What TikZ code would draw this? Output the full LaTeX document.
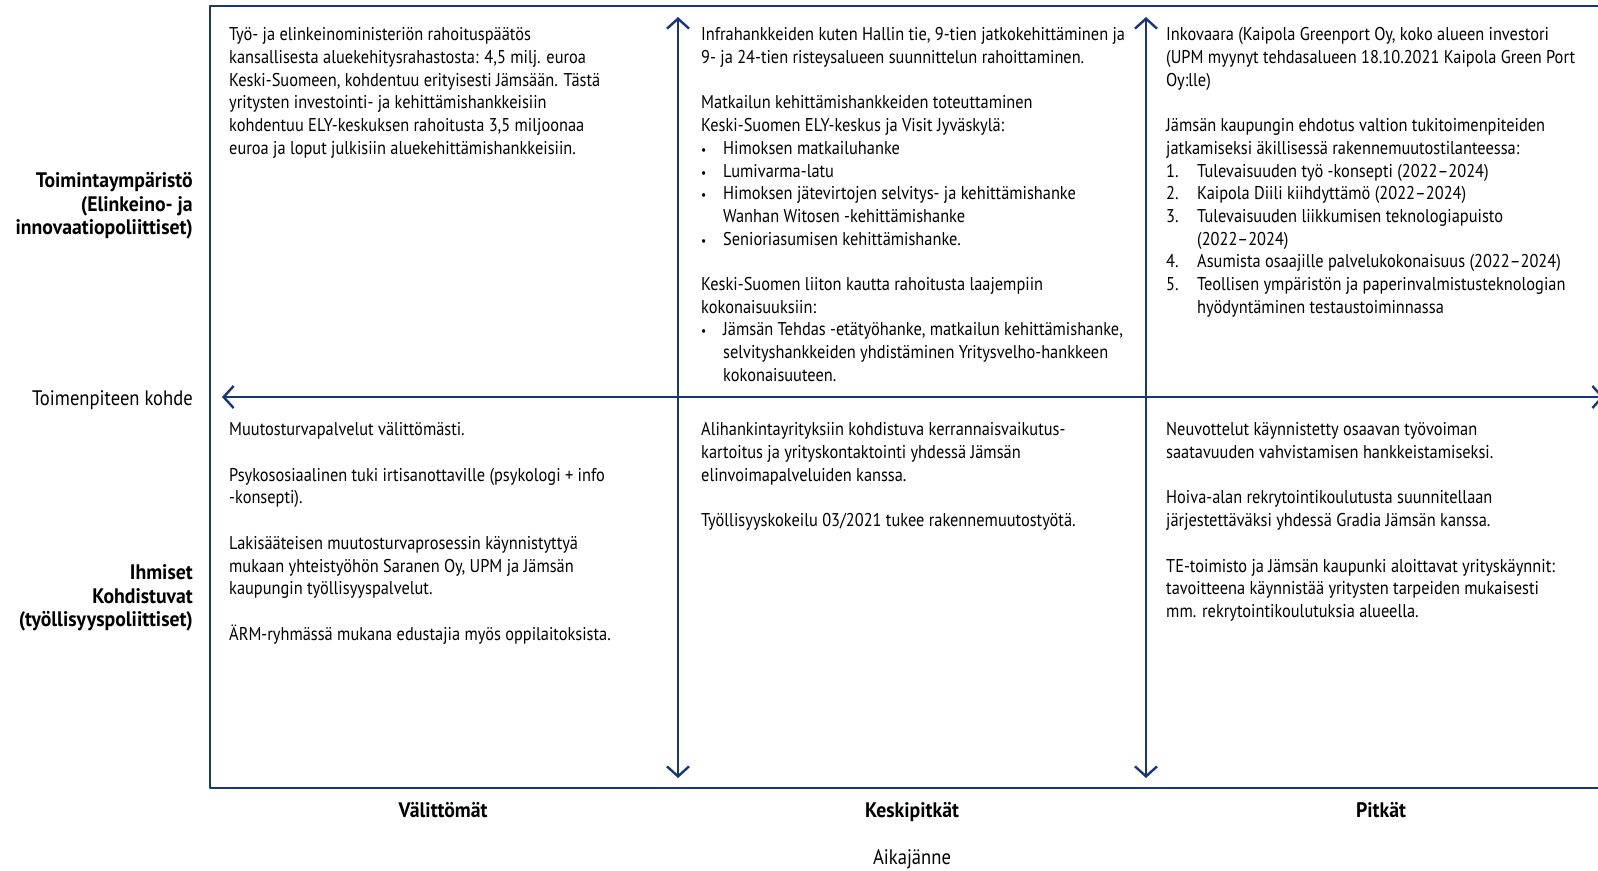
\documentclass[tikz,border=0pt]{standalone}
\usepackage{fontspec}
\setmainfont{PT Sans}[FakeStretch=0.885]
\newfontfamily\boldlab{PT Sans}[FakeStretch=0.94]
\usetikzlibrary{arrows.meta}
\definecolor{axisblue}{RGB}{24,55,120}
\newcommand{\bitem}[1]{\makebox[22pt][l]{\fontsize{13}{13}\selectfont\textbullet}#1}
\newcommand{\bcont}[1]{\hspace*{22pt}#1}
\newcommand{\nitem}[2]{\makebox[31pt][l]{#1}#2}
\newcommand{\ncont}[1]{\hspace*{31pt}#1}
\begin{document}
\begin{tikzpicture}[x=1pt,y=-1pt, line cap=round, line join=round,
  every node/.style={font=\fontsize{18.5}{22.7}\selectfont, inner sep=0pt},
  cell/.style={anchor=north west, align=left},
  rowlabel/.style={align=right, font=\fontsize{21}{23.5}\selectfont\boldlab\bfseries},
  collabel/.style={anchor=base, font=\fontsize{21}{23.5}\selectfont\boldlab\bfseries},
  axislabel/.style={font=\fontsize{21}{23.5}\selectfont},
  axis/.style={axisblue, line width=2.4pt, {Straight Barb[length=10pt,width=22pt]}-{Straight Barb[length=10pt,width=22pt]}}]
  % page
  \fill[white] (0,0) rectangle (1598,870);
  \clip (0,0) rectangle (1598,870);
  % frame
  \draw[axisblue, line width=2.2pt] (1614,6) -- (210,6) -- (210,788) -- (1614,788);
  % axes
  \coordinate (axL) at (222,397);
  \coordinate (axR) at (1604,397);
  \coordinate (midT) at (678,17);
  \coordinate (midB) at (678,778);
  \coordinate (lngT) at (1146,17);
  \coordinate (lngB) at (1146,778);
  \draw[axis] (axL) -- (axR);
  \draw[axis] (midT) -- (midB);
  \draw[axis] (lngT) -- (lngB);
  % row labels
  \node[rowlabel, anchor=east] (rowenv) at (193,206) {Toimintaympäristö\\(Elinkeino- ja\\innovaatiopoliittiset)};
  \node[axislabel, anchor=east] (rowaxis) at (193,400) {Toimenpiteen kohde};
  \node[rowlabel, anchor=east] (rowppl) at (193,598) {Ihmiset\\Kohdistuvat\\(työllisyyspoliittiset)};
  % column labels
  \node[collabel] (colnow) at (443,817.5) {Välittömät};
  \node[collabel] (colmid) at (912,817.5) {Keskipitkät};
  \node[collabel] (collong) at (1381,817.5) {Pitkät};
  \node[axislabel, anchor=base] (timeaxis) at (912,864.5) {Aikajänne};
  % upper cells
  \node[cell] (envnow) at (229,27.5) {Työ- ja elinkeinoministeriön rahoituspäätös\\
    kansallisesta aluekehitysrahastosta: 4,5 milj. euroa\\
    Keski-Suomeen, kohdentuu erityisesti Jämsään. Tästä\\
    yritysten investointi- ja kehittämishankkeisiin\\
    kohdentuu ELY-keskuksen rahoitusta 3,5 miljoonaa\\
    euroa ja loput julkisiin aluekehittämishankkeisiin.};
  \node[cell] (envmid) at (701,27.5) {Infrahankkeiden kuten Hallin tie, 9-tien jatkokehittäminen ja\\
    9- ja 24-tien risteysalueen suunnittelun rahoittaminen.\\[22.7pt]
    Matkailun kehittämishankkeiden toteuttaminen\\
    Keski-Suomen ELY-keskus ja Visit Jyväskylä:\\
    \bitem{Himoksen matkailuhanke}\\
    \bitem{Lumivarma-latu}\\
    \bitem{Himoksen jätevirtojen selvitys- ja kehittämishanke}\\
    \bcont{Wanhan Witosen -kehittämishanke}\\
    \bitem{Senioriasumisen kehittämishanke.}\\[22.7pt]
    Keski-Suomen liiton kautta rahoitusta laajempiin\\
    kokonaisuuksiin:\\
    \bitem{Jämsän Tehdas -etätyöhanke, matkailun kehittämishanke,}\\
    \bcont{selvityshankkeiden yhdistäminen Yritysvelho-hankkeen}\\
    \bcont{kokonaisuuteen.}};
  \node[cell] (envlong) at (1166,27.5) {Inkovaara (Kaipola Greenport Oy, koko alueen investori\\
    (UPM myynyt tehdasalueen 18.10.2021 Kaipola Green Port\\
    Oy:lle)\\[22.7pt]
    Jämsän kaupungin ehdotus valtion tukitoimenpiteiden\\
    jatkamiseksi äkillisessä rakennemuutostilanteessa:\\
    \nitem{1.}{Tulevaisuuden työ -konsepti (2022–2024)}\\
    \nitem{2.}{Kaipola Diili kiihdyttämö (2022–2024)}\\
    \nitem{3.}{Tulevaisuuden liikkumisen teknologiapuisto}\\
    \ncont{(2022–2024)}\\
    \nitem{4.}{Asumista osaajille palvelukokonaisuus (2022–2024)}\\
    \nitem{5.}{Teollisen ympäristön ja paperinvalmistusteknologian}\\
    \ncont{hyödyntäminen testaustoiminnassa}};
  % lower cells
  \node[cell] (pplnow) at (229,422.5) {Muutosturvapalvelut välittömästi.\\[22.7pt]
    Psykososiaalinen tuki irtisanottaville (psykologi + info\\
    -konsepti).\\[22.7pt]
    Lakisääteisen muutosturvaprosessin käynnistyttyä\\
    mukaan yhteistyöhön Saranen Oy, UPM ja Jämsän\\
    kaupungin työllisyyspalvelut.\\[22.7pt]
    ÄRM-ryhmässä mukana edustajia myös oppilaitoksista.};
  \node[cell] (pplmid) at (701,422.5) {Alihankintayrityksiin kohdistuva kerrannaisvaikutus-\\
    kartoitus ja yrityskontaktointi yhdessä Jämsän\\
    elinvoimapalveluiden kanssa.\\[22.7pt]
    Työllisyyskokeilu 03/2021 tukee rakennemuutostyötä.};
  \node[cell] (ppllong) at (1166,422.5) {Neuvottelut käynnistetty osaavan työvoiman\\
    saatavuuden vahvistamisen hankkeistamiseksi.\\[22.7pt]
    Hoiva-alan rekrytointikoulutusta suunnitellaan\\
    järjestettäväksi yhdessä Gradia Jämsän kanssa.\\[22.7pt]
    TE-toimisto ja Jämsän kaupunki aloittavat yrityskäynnit:\\
    tavoitteena käynnistää yritysten tarpeiden mukaisesti\\
    mm. rekrytointikoulutuksia alueella.};
\end{tikzpicture}
\end{document}
